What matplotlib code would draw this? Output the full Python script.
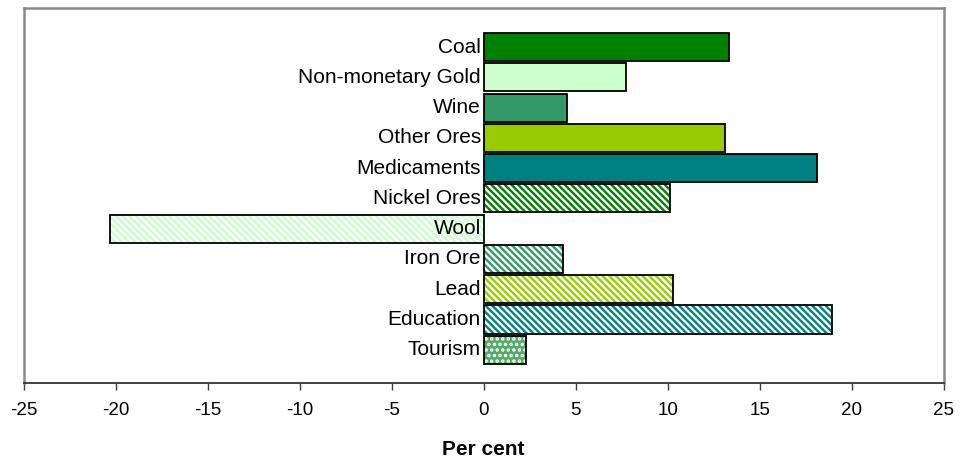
import matplotlib
matplotlib.use("Agg")
import matplotlib.pyplot as plt
import numpy as np

plt.rcParams['font.family'] = ['Liberation Sans', 'DejaVu Sans']
plt.rcParams['hatch.linewidth'] = 1.7

categories = ["Coal", "Non-monetary Gold", "Wine", "Other Ores", "Medicaments",
              "Nickel Ores", "Wool", "Iron Ore", "Lead", "Education", "Tourism"]
values = [13.3, 7.7, 4.5, 13.1, 18.1, 10.1, -20.3, 4.3, 10.3, 18.9, 2.3]
colors = ["#008000", "#CCFFCC", "#339966", "#99CC00", "#008080",
          "#008000", "#CCFFCC", "#339966", "#99CC00", "#008080", "#339966"]
patterns = ["", "", "", "", "", "stripe", "stripe", "stripe", "stripe", "stripe", "dots"]
xticks = [-25, -20, -15, -10, -5, 0, 5, 10, 15, 20, 25]

W, H = 965, 459
fig = plt.figure(figsize=(W / 100, H / 100), dpi=100)
left, right, top, bottom = 23.5, 944, 8, 383
ax = fig.add_axes([left / W, 1 - bottom / H, (right - left) / W, (bottom - top) / H])

y = np.arange(len(categories))
bh = 0.93
stripe = "\\" * 5
for yi, v, c, p in zip(y, values, colors, patterns):
    if p == "":
        ax.barh(yi, v, height=bh, color=c, edgecolor="black", linewidth=1.3, zorder=3)
    elif p == "stripe":
        ax.barh(yi, v, height=bh, color="white", edgecolor=c, hatch=stripe, linewidth=0, zorder=2)
        ax.barh(yi, v, height=bh, fill=False, edgecolor="black", linewidth=1.3, zorder=3)
    else:
        ax.barh(yi, v, height=bh, color="#55AA66", edgecolor="white", hatch="...", linewidth=0, zorder=2)
        ax.barh(yi, v, height=bh, fill=False, edgecolor="black", linewidth=1.3, zorder=3)

ax.set_ylim(len(categories) - 1 + 1.1, -1.29)
ax.set_xlim(-25, 25)
ax.set_xticks(xticks)
ax.set_xticklabels([str(t) for t in xticks], fontsize=13.5)
ax.tick_params(axis="x", direction="out", length=5, width=1, color="#404040", pad=9)
ax.set_yticks([])

for yi, name in zip(y, categories):
    ax.text(-0.15, yi, name, ha="right", va="center", fontsize=15, zorder=4)

for s in ["left", "right", "top"]:
    ax.spines[s].set_color("#888888")
    ax.spines[s].set_linewidth(1.8)
ax.spines["bottom"].set_color("#333333")
ax.spines["bottom"].set_linewidth(1.3)

ax.set_xlabel("Per cent", fontsize=15, fontweight="bold", labelpad=15)

fig.savefig("out.png", dpi=100)
